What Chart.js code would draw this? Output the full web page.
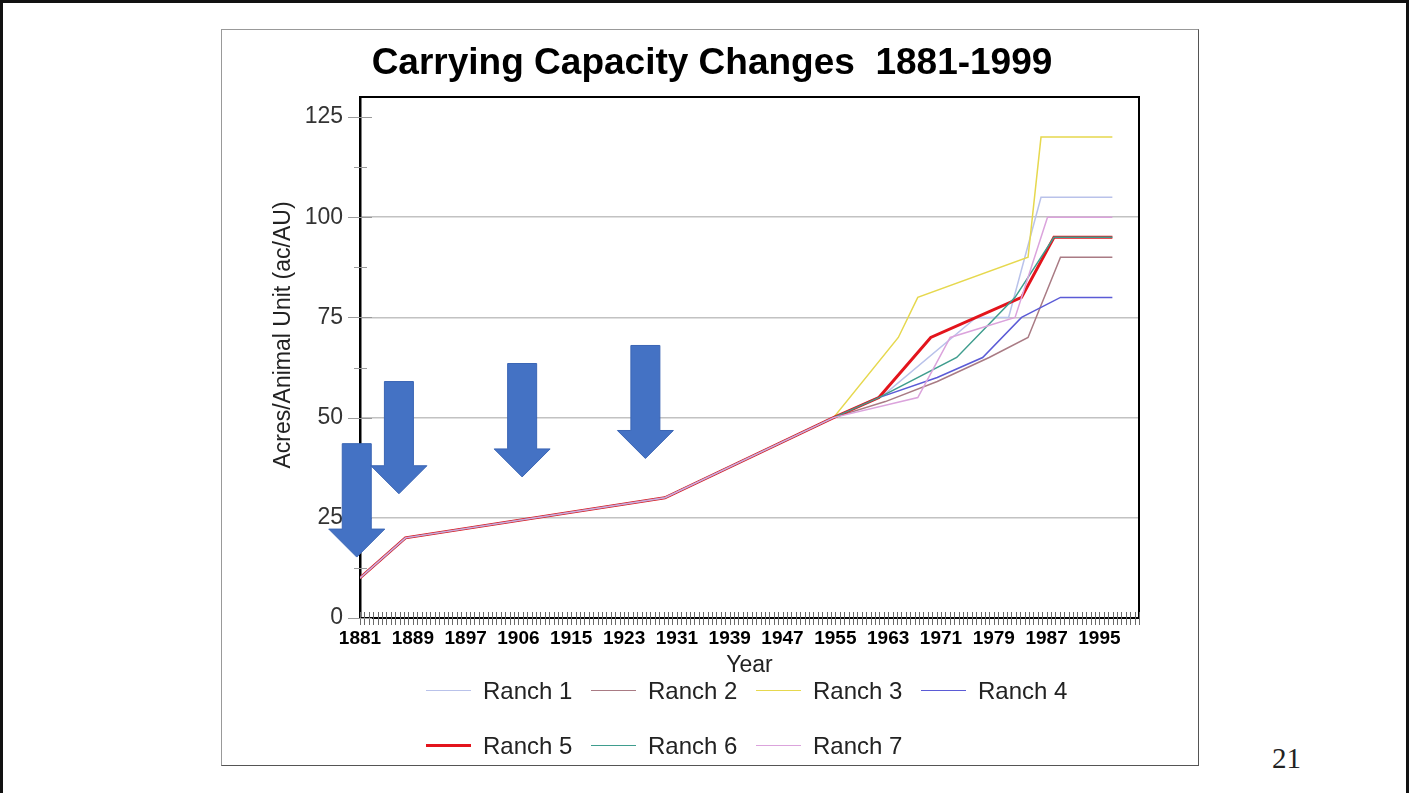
<!DOCTYPE html>
<html>
<head>
<meta charset="utf-8">
<title>Carrying Capacity Changes 1881-1999</title>
<script src="https://cdn.jsdelivr.net/npm/chart.js@4.4.1/dist/chart.umd.min.js"></script>
<style>
    html, body { margin: 0; padding: 0; background: #fff; }
    body { width: 1409px; height: 793px; position: relative; overflow: hidden; font-family: "Liberation Sans", Arial, sans-serif; }
    .slide { position: absolute; left: 0; top: 0; width: 1403px; height: 800px; border: 3px solid #111; border-bottom: none; }
    .chart-box { position: absolute; left: 221px; top: 29px; width: 976px; height: 735px; border: 1px solid #999; border-right-color: #555; border-bottom-color: #555; }
    .chart-box canvas { position: absolute; left: 0; top: 0; }
    #legend { position: absolute; left: 204px; top: 633px; }
    .legend-row { display: flex; height: 55px; align-items: center; }
    .legend-item { width: 165px; display: flex; align-items: center; font-size: 24px; color: #222; white-space: nowrap; }
    .legend-swatch { width: 45px; margin-right: 12px; }
    .page-num { position: absolute; left: 1272px; top: 744px; font: 29px "Liberation Serif", "Times New Roman", serif; line-height: 1; color: #222; }
</style>
</head>
<body>
<div class="slide"></div>
<div class="chart-box">
    <canvas id="capacityChart" width="976" height="735"></canvas>
    <div id="legend"></div>
</div>
<div class="page-num">21</div>

<script>
// x axis: one tick per row, a year label on every 12th tick
const yearLabels = [1881, 1889, 1897, 1906, 1915, 1923, 1931, 1939, 1947, 1955, 1963, 1971, 1979, 1987, 1995];
const ticksPerLabel = 12;
const tickCount = 178;

// y axis
const yMax = 130;
const yStep = 12.5;
const yLabelStep = 25;

const chartTitle = 'Carrying Capacity Changes  1881-1999';
const yTitle = 'Acres/Animal Unit (ac/AU)';
const seriesNames = ['Ranch 1', 'Ranch 2', 'Ranch 3', 'Ranch 4', 'Ranch 5', 'Ranch 6', 'Ranch 7'];

// [year, acres per AU]; all ranches follow the same trend up to the mid 1950s
const earlyTrend = [[1881, 10], [1888, 20], [1928, 30], [1954, 50]];
const ranch1 = [[1962, 56], [1976, 75], [1981, 75], [1986, 105], [1997, 105]];
const ranch2 = [[1962, 54], [1970, 59], [1978, 65], [1984, 70], [1989, 90], [1997, 90]];
const ranch3 = [[1964, 70], [1967, 80], [1984, 90], [1986, 120], [1997, 120]];
const ranch4 = [[1961, 55], [1970, 60], [1977, 65], [1983, 75], [1989, 80], [1997, 80]];
const ranch5 = [[1961, 55], [1969, 70], [1983, 80], [1988, 95], [1997, 95]];
const ranch6 = [[1961, 55], [1973, 65], [1982, 80], [1988, 95], [1997, 95]];
const ranch7 = [[1967, 55], [1972, 70], [1982, 75], [1987, 100], [1997, 100]];

const seriesColors = ['#b9c2ea', '#a97b84', '#e6d84e', '#5b5bd6', '#e3141c', '#3f9d8e', '#dba3dc'];
const seriesWidths = [1.5, 1.5, 1.5, 1.5, 3, 1.5, 1.5];

// the four block arrows on the slide (year, shaft top, tip)
const arrowYears = [1880.5, 1887, 1906, 1925];
const arrowTops = [43.5, 59, 63.5, 68];
const arrowTips = [15.2, 31, 35.2, 39.8];

const yearStep = (yearLabels[yearLabels.length - 1] - yearLabels[0]) / ((yearLabels.length - 1) * ticksPerLabel);
const xMin = yearLabels[0];
const xMax = xMin + (tickCount - 1) * yearStep;

const FONT = '"Liberation Sans", Arial, sans-serif';

const ranchSeries = [ranch1, ranch2, ranch3, ranch4, ranch5, ranch6, ranch7];

const datasets = ranchSeries.map((pts, i) => ({
    label: seriesNames[i],
    data: earlyTrend.concat(pts).map(p => ({ x: p[0], y: p[1] })),
    borderColor: seriesColors[i],
    backgroundColor: seriesColors[i],
    borderWidth: seriesWidths[i],
    pointRadius: 0,
    tension: 0,
    order: seriesNames.length - i
}));

// titles, plot frame, crossing tick marks and the blue arrows
const slideExtras = {
    id: 'slideExtras',
    afterDraw(chart) {
        const { ctx, chartArea: a, width } = chart;
        const x = chart.scales.x;
        const y = chart.scales.y;
        ctx.save();

        // chart title, centred on the whole box like the slide
        ctx.fillStyle = '#000';
        ctx.font = 'bold 37px ' + FONT;
        ctx.textAlign = 'center';
        ctx.textBaseline = 'middle';
        ctx.fillText(chartTitle, width / 2 + 2, 34);

        // y axis title
        ctx.save();
        ctx.translate(62, 305);
        ctx.rotate(-Math.PI / 2);
        ctx.fillStyle = '#222';
        ctx.font = '23px ' + FONT;
        ctx.fillText(yTitle, 0, 0);
        ctx.restore();

        ctx.strokeStyle = '#000';
        ctx.lineWidth = 2;
        ctx.beginPath();
        ctx.moveTo(a.left, a.top);
        ctx.lineTo(a.right, a.top);
        ctx.lineTo(a.right, a.bottom);
        ctx.stroke();

        ctx.lineWidth = 1;
        ctx.strokeStyle = '#6a6a6a';
        ctx.beginPath();
        x.ticks.forEach(t => {
            const px = Math.round(x.getPixelForValue(t.value)) + 0.5;
            ctx.moveTo(px, a.bottom - 6);
            ctx.lineTo(px, a.bottom + 7);
        });
        ctx.stroke();

        ctx.strokeStyle = '#9a9a9a';
        ctx.beginPath();
        y.ticks.forEach(t => {
            const py = Math.round(y.getPixelForValue(t.value)) + 0.5;
            const major = t.value % yLabelStep === 0;
            ctx.moveTo(a.left - (major ? 12 : 6), py);
            ctx.lineTo(a.left + (major ? 12 : 7), py);
        });
        ctx.stroke();

        ctx.fillStyle = '#4472c4';
        ctx.strokeStyle = '#3b66b5';
        ctx.lineWidth = 1;
        arrowYears.forEach((yr, i) => {
            const cx = x.getPixelForValue(yr);
            const top = y.getPixelForValue(arrowTops[i]);
            const tip = y.getPixelForValue(arrowTips[i]);
            const base = tip - 28;
            ctx.beginPath();
            ctx.moveTo(cx - 14.5, top);
            ctx.lineTo(cx + 14.5, top);
            ctx.lineTo(cx + 14.5, base);
            ctx.lineTo(cx + 28, base);
            ctx.lineTo(cx, tip);
            ctx.lineTo(cx - 28, base);
            ctx.lineTo(cx - 14.5, base);
            ctx.closePath();
            ctx.fill();
            ctx.stroke();
        });

        ctx.restore();
    }
};

const chart = new Chart(document.getElementById('capacityChart'), {
    type: 'line',
    data: { datasets: datasets },
    options: {
        responsive: false,
        animation: false,
        layout: { padding: { left: 0, right: 59, top: 67, bottom: 77 } },
        plugins: {
            legend: { display: false },
            tooltip: { enabled: false },
            title: { display: false }
        },
        scales: {
            x: {
                type: 'linear',
                min: xMin,
                max: xMax,
                afterBuildTicks(scale) {
                    const ticks = [];
                    for (let i = 0; i < tickCount; i++) ticks.push({ value: xMin + i * yearStep });
                    scale.ticks = ticks;
                },
                afterFit(scale) { scale.height = 70; },
                grid: { display: false, drawTicks: false },
                border: { display: true, color: '#000', width: 2 },
                ticks: {
                    autoSkip: false,
                    maxRotation: 0,
                    padding: 9,
                    color: '#000',
                    font: { family: FONT, size: 19, weight: 'bold' },
                    callback: (value, index) => index % ticksPerLabel === 0 ? String(yearLabels[index / ticksPerLabel]) : ''
                },
                title: {
                    display: true,
                    text: 'Year',
                    color: '#222',
                    font: { family: FONT, size: 23 },
                    padding: { top: 0, bottom: 9 }
                }
            },
            y: {
                min: 0,
                max: yMax,
                afterFit(scale) { scale.width = 138; },
                grid: {
                    drawTicks: false,
                    lineWidth: 1.5,
                    color: c => (c.tick && c.tick.value % yLabelStep === 0 && c.tick.value > 0 && c.tick.value < 125) ? '#c2c2c2' : 'rgba(0,0,0,0)'
                },
                border: { display: true, color: '#000', width: 2.5 },
                ticks: {
                    stepSize: yStep,
                    includeBounds: false,
                    padding: 17,
                    color: '#333',
                    font: { family: FONT, size: 23 },
                    callback: v => v % yLabelStep === 0 ? v : ''
                },
                title: { display: false }
            }
        }
    },
    plugins: [slideExtras]
});

// legend laid out as in the slide: two rows on a fixed column grid
const legendEl = document.getElementById('legend');
[chart.data.datasets.slice(0, 4), chart.data.datasets.slice(4)].forEach(rowSets => {
    const row = document.createElement('div');
    row.className = 'legend-row';
    rowSets.forEach(ds => {
        const item = document.createElement('div');
        item.className = 'legend-item';
        const sw = document.createElement('span');
        sw.className = 'legend-swatch';
        sw.style.height = ds.borderWidth + 'px';
        sw.style.background = ds.borderColor;
        item.appendChild(sw);
        item.appendChild(document.createTextNode(ds.label));
        row.appendChild(item);
    });
    legendEl.appendChild(row);
});
</script>
</body>
</html>
